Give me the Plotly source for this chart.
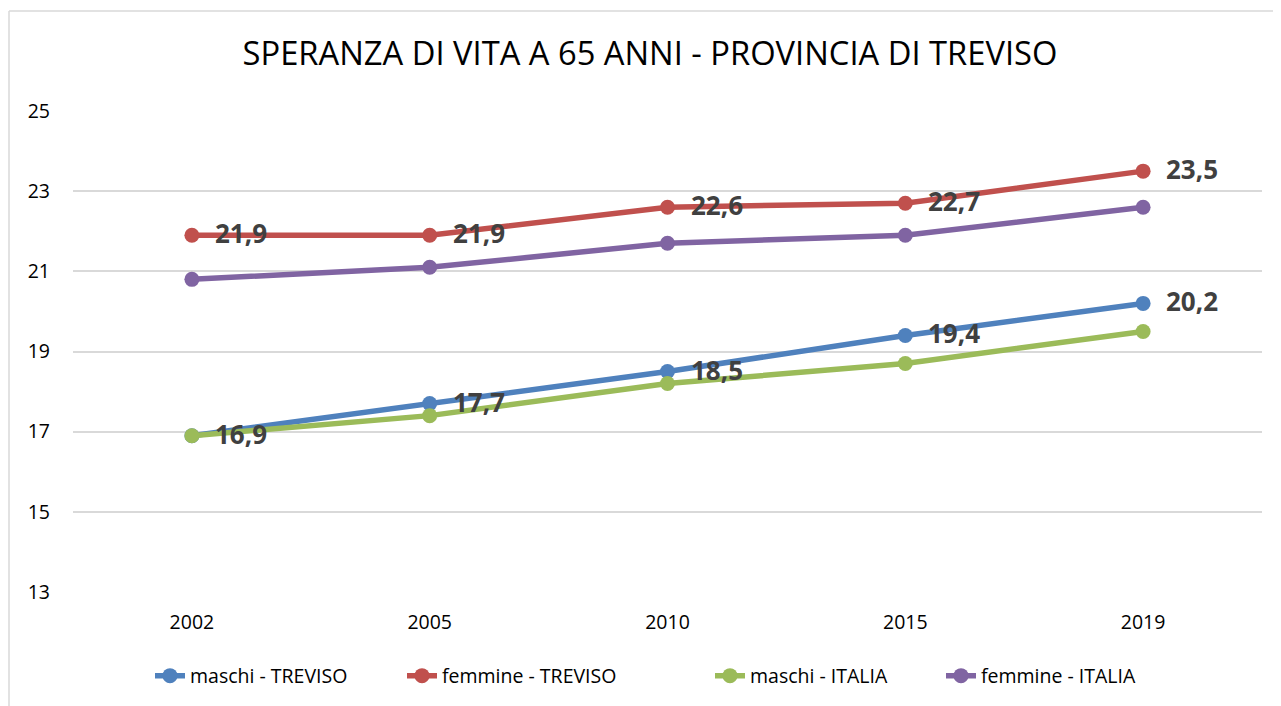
import plotly.graph_objects as go

years = ["2002", "2005", "2010", "2015", "2019"]
maschi_treviso = [16.9, 17.7, 18.5, 19.4, 20.2]
femmine_treviso = [21.9, 21.9, 22.6, 22.7, 23.5]
maschi_italia = [16.9, 17.4, 18.2, 18.7, 19.5]
femmine_italia = [20.8, 21.1, 21.7, 21.9, 22.6]
y_ticks = [13, 15, 17, 19, 21, 23, 25]

series = [
    ("maschi - TREVISO", maschi_treviso, "#4F81BD", True),
    ("femmine - TREVISO", femmine_treviso, "#C0504D", True),
    ("maschi - ITALIA", maschi_italia, "#9BBB59", False),
    ("femmine - ITALIA", femmine_italia, "#8064A2", False),
]

OFF = 8  # page body margin of the html page
W, H = 1281 - OFF, 706 - OFF
L, R, T, B = 73 - OFF, 1262 - OFF, 111 - OFF, 592 - OFF  # plot area (figure px)
FONT = "Open Sans"

fig = go.Figure()
legend_names = ["legend", "legend2", "legend3", "legend4"]
for i, (name, vals, color, _) in enumerate(series):
    fig.add_trace(go.Scatter(
        x=years, y=vals, name=name, mode="lines+markers",
        line=dict(color=color, width=5.5),
        marker=dict(color=color, size=15),
        legend=legend_names[i],
    ))

annotations = []
for name, vals, color, labelled in series:
    if not labelled:
        continue
    for idx, v in enumerate(vals):
        annotations.append(dict(
            x=idx, y=v, xref="x", yref="y",
            text=f"{v:.1f}".replace(".", ","),
            showarrow=False, xanchor="left", yanchor="middle",
            xshift=21, yshift=2,
            font=dict(family=FONT, size=26, color="#404040", weight="bold"),
        ))

def px_x(p):
    return (p - OFF - L) / (R - L)

def px_y(p):
    return (B - (p - OFF)) / (B - T)

shapes = [
    dict(type="line", xref="paper", yref="paper",
         x0=px_x(9), x1=px_x(1281 + 5), y0=px_y(11), y1=px_y(11),
         line=dict(color="#d9d9d9", width=1.5)),
    dict(type="line", xref="paper", yref="paper",
         x0=px_x(9), x1=px_x(9), y0=px_y(11), y1=px_y(706 + 5),
         line=dict(color="#d9d9d9", width=1.5)),
]

legend_text_starts = [190, 442, 750, 981]
legend_cfg = {}
for i, ln in enumerate(legend_names):
    legend_cfg[ln] = dict(
        xref="container", yref="container",
        x=(legend_text_starts[i] - 40 - OFF) / W, xanchor="left",
        y=1 - (676 - OFF) / H, yanchor="middle",
        orientation="h", bgcolor="rgba(0,0,0,0)",
        font=dict(family=FONT, size=19.5, color="#000000"),
        itemwidth=30,
    )

fig.update_layout(
    width=W, height=H,
    margin=dict(l=L, r=W - R, t=T, b=H - B, pad=0),
    paper_bgcolor="white", plot_bgcolor="white",
    font=dict(family=FONT, color="#000000"),
    separators=",.",
    title=dict(
        text="SPERANZA DI VITA A 65 ANNI - PROVINCIA DI TREVISO",
        xref="container", yref="container",
        x=(650 - OFF) / W, xanchor="center", y=1 - (54 - OFF) / H, yanchor="middle",
        font=dict(family=FONT, size=32.7, color="#000000"),
    ),
    xaxis=dict(
        type="category", range=[-0.5, 4.5],
        showgrid=False, showline=False, zeroline=False,
        ticks="", tickfont=dict(family=FONT, size=19.5, color="#000000"),
        ticklabelstandoff=16,
    ),
    yaxis=dict(
        range=[13, 25], tickvals=y_ticks,
        showgrid=True, gridcolor="#d9d9d9", gridwidth=1.5,
        showline=False, zeroline=False, ticks="",
        tickfont=dict(family=FONT, size=19.5, color="#000000"),
        ticklabelstandoff=22,
    ),
    annotations=annotations,
    shapes=shapes,
    showlegend=True,
    **legend_cfg,
)

fig.write_html("out.html")
